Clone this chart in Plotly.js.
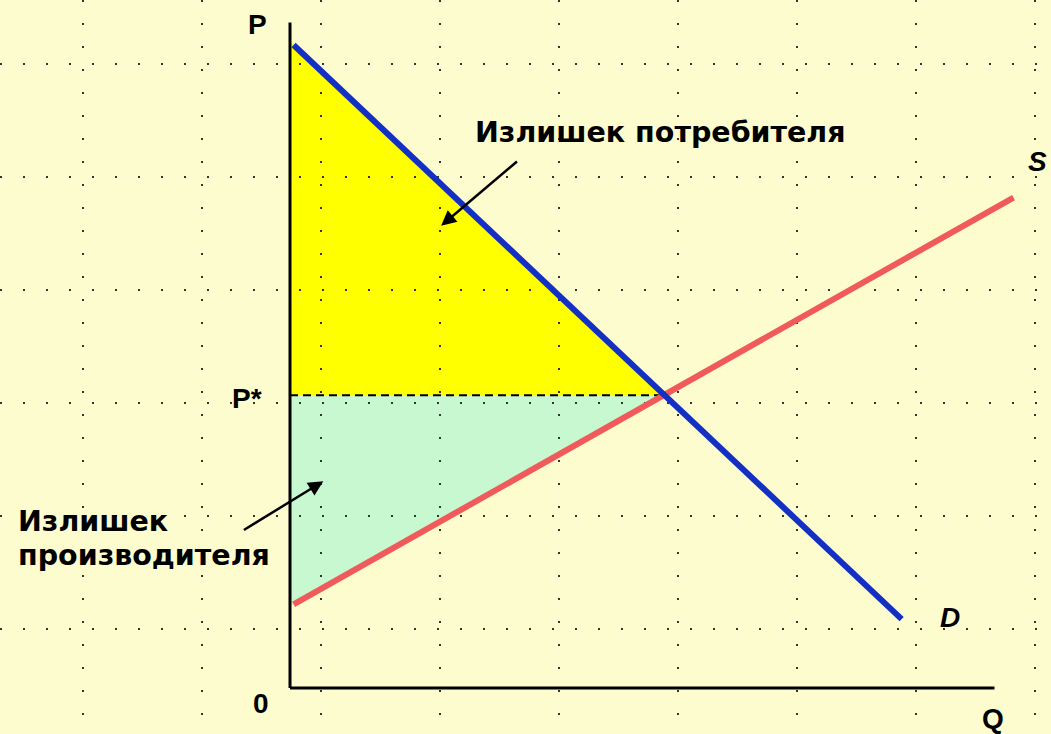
<!DOCTYPE html>
<html>
<head>
<meta charset="utf-8">
<script src="https://cdn.plot.ly/plotly-3.0.1.min.js"></script>
<style>
  html, body { margin: 0; padding: 0; background: #fdfccf; }
  #chart { width: 1051px; height: 734px; }
</style>
</head>
<body>
<div id="chart"></div>
<script>
// demand and supply lines (Q, P in grid cells from the origin)
var demandQ = [0.03, 5.14];
var demandP = [5.69, 0.61];
var supplyQ = [0.03, 6.08];
var supplyP = [0.74, 4.34];

// equilibrium and where the curves cut the P axis
var eqQ = 3.14;
var eqP = 2.59;
var demandP0 = 5.72;
var supplyP0 = 0.73;

// axis ends
var axisQmax = 5.92;
var axisPmax = 5.89;

var CHART = document.getElementById('chart');
var FONT = 'Liberation Sans, Arial, sans-serif';
var WIDE = 'DejaVu Sans, Verdana, sans-serif';

var qAxis = {
    x: [0, axisQmax],
    y: [0, 0],
    mode: 'lines',
    line: { color: 'black', width: 3 },
    hoverinfo: 'skip'
};

var pAxis = {
    x: [0, 0],
    y: [0, axisPmax],
    mode: 'lines',
    line: { color: 'black', width: 3 },
    hoverinfo: 'skip'
};

var eqLine = {
    x: [0, eqQ],
    y: [eqP, eqP],
    mode: 'lines',
    line: { color: 'black', width: 2, dash: '8px,5px' },
    hoverinfo: 'skip'
};

var supply = {
    x: supplyQ,
    y: supplyP,
    mode: 'lines',
    line: { color: '#f05a5a', width: 6 },
    hoverinfo: 'skip'
};

var demand = {
    x: demandQ,
    y: demandP,
    mode: 'lines',
    line: { color: '#1430c4', width: 6 },
    hoverinfo: 'skip'
};

var data = [eqLine, supply, demand, qAxis, pAxis];

function tri(x, y) {
    return 'M' + x[0] + ',' + y[0] + ' L' + x[1] + ',' + y[1] + ' L' + x[2] + ',' + y[2] + ' Z';
}

var shapes = [
    {
        type: 'path', xref: 'x', yref: 'y', layer: 'below',
        path: tri([0, 0, eqQ], [demandP0, eqP, eqP]),
        fillcolor: '#ffff00', line: { width: 0 }
    },
    {
        type: 'path', xref: 'x', yref: 'y', layer: 'below',
        path: tri([0, 0, eqQ], [eqP, supplyP0, eqP]),
        fillcolor: '#c8f8d0', line: { width: 0 }
    }
];

function label(text, x, y, anchor, extra) {
    var a = {
        text: text, x: x, y: y, xref: 'x', yref: 'y',
        xanchor: anchor, yanchor: 'middle', showarrow: false,
        font: { family: FONT, size: 28, color: 'black', weight: 'bold' }
    };
    for (var k in extra) a[k] = extra[k];
    return a;
}

var wideFont = { font: { family: WIDE, size: 28.5, color: 'black', weight: 'bold' } };

var annotations = [
    label('P', -0.27, 5.87, 'center'),
    label('P*', -0.22, eqP - 0.03, 'right'),
    label('0', -0.24, -0.14, 'center'),
    label('Q', 5.91, -0.27, 'center'),
    label('<i>S</i>', 6.38, 4.66, 'right'),
    label('<i>D</i>', 5.55, 0.62, 'center'),
    label('Излишек потребителя', 1.54, 4.92, 'left', wideFont),
    label('Излишек', -2.30, 1.47, 'left', wideFont),
    label('производителя', -2.30, 1.17, 'left', wideFont),
    {
        x: 1.27, y: 4.09, ax: 1.92, ay: 4.67,
        xref: 'x', yref: 'y', axref: 'x', ayref: 'y',
        text: '', showarrow: true, arrowhead: 2, arrowsize: 1.2,
        arrowwidth: 2.5, arrowcolor: 'black'
    },
    {
        x: 0.28, y: 1.83, ax: -0.40, ay: 1.39,
        xref: 'x', yref: 'y', axref: 'x', ayref: 'y',
        text: '', showarrow: true, arrowhead: 2, arrowsize: 1.2,
        arrowwidth: 2.5, arrowcolor: 'black'
    }
];

var layout = {
    width: 1051,
    height: 734,
    margin: { l: 0, r: 0, t: 0, b: 0 },
    paper_bgcolor: '#fdfccf',
    plot_bgcolor: '#fdfccf',
    showlegend: false,
    xaxis: {
        range: [-2.437, 6.395],
        tick0: -1.739, dtick: 1,
        showgrid: true, gridcolor: '#333333', gridwidth: 2, griddash: '2px,21px',
        zeroline: false, showline: false, showticklabels: false, ticks: '',
        fixedrange: true
    },
    yaxis: {
        range: [-0.407, 6.088],
        tick0: -0.478, dtick: 1,
        showgrid: true, gridcolor: '#333333', gridwidth: 2, griddash: '2px,21px',
        zeroline: false, showline: false, showticklabels: false, ticks: '',
        fixedrange: true
    },
    shapes: shapes,
    annotations: annotations
};

Plotly.newPlot(CHART, data, layout, { displayModeBar: false, staticPlot: true });
</script>
</body>
</html>
